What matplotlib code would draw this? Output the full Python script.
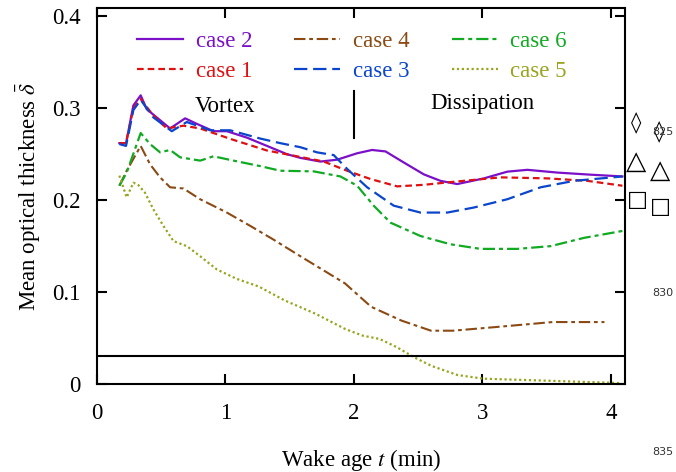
import matplotlib
matplotlib.use('Agg')
import matplotlib.pyplot as plt

# dados
t_case2 = [0.174, 0.226, 0.283, 0.34, 0.387, 0.569, 0.686, 0.777, 0.907, 1.011, 1.167,
           1.323, 1.479, 1.583, 1.739, 1.869, 2.025, 2.141, 2.246, 2.388, 2.545, 2.674,
           2.804, 3.012, 3.194, 3.35, 3.584, 3.844, 4.09]
d_case2 = [0.262, 0.262, 0.303, 0.314, 0.299, 0.278, 0.289, 0.283, 0.275, 0.275, 0.268,
           0.259, 0.250, 0.246, 0.242, 0.244, 0.251, 0.2546, 0.253, 0.241, 0.228, 0.221,
           0.2175, 0.2237, 0.231, 0.233, 0.230, 0.2277, 0.2258]

t_case1 = [0.174, 0.226, 0.283, 0.34, 0.439, 0.543, 0.673, 0.803, 1.037, 1.323, 1.557,
           1.765, 1.947, 2.129, 2.337, 2.545, 2.778, 3.142, 3.506, 3.818, 4.09]
d_case1 = [0.262, 0.262, 0.300, 0.310, 0.292, 0.278, 0.281, 0.278, 0.2667, 0.254, 0.2477,
           0.242, 0.232, 0.223, 0.215, 0.2167, 0.220, 0.2248, 0.2237, 0.221, 0.2157]

t_case4 = [0.174, 0.231, 0.34, 0.413, 0.491, 0.569, 0.673, 0.803, 1.011, 1.193, 1.375,
           1.583, 1.93, 2.134, 2.37, 2.60, 2.77, 3.107, 3.545, 3.95]
d_case4 = [0.2157, 0.232, 0.259, 0.239, 0.2248, 0.214, 0.2127, 0.201, 0.1865, 0.172, 0.157,
           0.139, 0.1095, 0.084, 0.069, 0.058, 0.058, 0.062, 0.0674, 0.0674]

t_case3 = [0.174, 0.226, 0.283, 0.34, 0.439, 0.582, 0.699, 0.881, 1.037, 1.271, 1.427,
           1.583, 1.713, 1.843, 1.947, 2.103, 2.31, 2.518, 2.727, 2.934, 3.194, 3.454,
           3.714, 4.09]
d_case3 = [0.261, 0.259, 0.298, 0.309, 0.290, 0.275, 0.285, 0.276, 0.276, 0.267, 0.262,
           0.2576, 0.252, 0.249, 0.234, 0.214, 0.194, 0.1865, 0.1865, 0.192, 0.201, 0.214,
           0.221, 0.2258]

t_case6 = [0.174, 0.231, 0.34, 0.413, 0.491, 0.569, 0.647, 0.803, 0.907, 1.063, 1.271,
           1.427, 1.687, 1.895, 2.025, 2.154, 2.285, 2.518, 2.752, 2.986, 3.272, 3.532,
           3.792, 4.09]
d_case6 = [0.2157, 0.230, 0.273, 0.261, 0.252, 0.2546, 0.2466, 0.243, 0.2477, 0.243, 0.237,
           0.232, 0.2313, 0.2258, 0.2157, 0.194, 0.1755, 0.161, 0.152, 0.147, 0.147, 0.150,
           0.159, 0.1665]

t_case5 = [0.174, 0.231, 0.283, 0.322, 0.374, 0.439, 0.517, 0.595, 0.699, 0.803, 0.933,
           1.089, 1.26, 1.46, 1.70, 1.93, 2.066, 2.20, 2.335, 2.47, 2.604, 2.806, 3.007,
           3.44, 4.08]
d_case5 = [0.2267, 0.203, 0.219, 0.2164, 0.208, 0.190, 0.172, 0.1555, 0.150, 0.139, 0.1246,
           0.1143, 0.106, 0.091, 0.0765, 0.060, 0.0527, 0.049, 0.040, 0.029, 0.0197, 0.0098,
           0.0058, 0.0039, 0.001]

limiar = 0.03
t_fase = 2.0
fases = ['Vortex', 'Dissipation']
t_fases = [1.0, 3.0]

plt.rcParams['font.family'] = ['Liberation Serif', 'DejaVu Serif']
plt.rcParams['mathtext.fontset'] = 'stix'
tam = 16.5

fig = plt.figure(figsize=(6.76, 4.72), dpi=100)
ax = fig.add_axes([0.1435, 0.1864, 0.781, 0.7966])

ax.plot(t_case2, d_case2, color='#7B10C8', lw=1.6, linestyle='-', label='case 2')
ax.plot(t_case1, d_case1, color='#DD1111', lw=1.6, linestyle=(0, (3, 1.8)), label='case 1')
ax.plot(t_case4, d_case4, color='#8B4A14', lw=1.5, linestyle=(0, (5.5, 1.8, 1.8, 1.8)), label='case 4')
ax.plot(t_case3, d_case3, color='#0A45CC', lw=1.6, linestyle=(0, (6, 2.6)), label='case 3')
ax.plot(t_case6, d_case6, color='#11AA22', lw=1.6, linestyle=(0, (5.5, 1.8, 1.8, 1.8)), label='case 6')
ax.plot(t_case5, d_case5, color='#99A520', lw=1.6, linestyle=(0, (1, 1.2)), label='case 5')

ax.axhline(limiar, color='black', lw=1.5)
ax.plot([t_fase, t_fase], [0.268, 0.319], color='black', lw=1.5)
ax.text(t_fases[0], 0.302, fases[0], ha='center', va='center', fontsize=tam)
ax.text(t_fases[1], 0.305, fases[1], ha='center', va='center', fontsize=tam)

ax.set_xlim(0, 4.11)
ax.set_ylim(0, 0.409)
ax.set_xticks([0, 1, 2, 3, 4])
ax.set_xticklabels(['0', '1', '2', '3', '4'])
ax.set_yticks([0, 0.1, 0.2, 0.3, 0.4])
ax.set_yticklabels(['0', '0.1', '0.2', '0.3', '0.4'])
ax.tick_params(direction='in', length=7.5, width=1.5, top=True, right=True, labelsize=tam)
ax.tick_params(axis='x', pad=14)
ax.tick_params(axis='y', pad=12)
for lado in ax.spines.values():
    lado.set_linewidth(1.5)

ax.set_xlabel('Wake age $t$ (min)', fontsize=tam, labelpad=16)
ax.set_ylabel(r'Mean optical thickness $\bar{\delta}$', fontsize=tam, labelpad=6)

leg = ax.legend(loc='upper left', bbox_to_anchor=(0.05, 0.975), ncol=3, frameon=False,
                handlelength=2.0, handletextpad=0.55, columnspacing=1.85, labelspacing=0.4,
                labelcolor='linecolor', fontsize=tam, borderaxespad=0.2)

# marcas de digitalizacao na margem direita
fig.text(636 / 676, 1 - 123 / 472, '\u25CA', family='DejaVu Sans', fontsize=15, ha='center', va='center')
fig.text(659 / 676, 1 - 132 / 472, '\u25CA', family='DejaVu Sans', fontsize=15, ha='center', va='center')
fig.text(636 / 676, 1 - 162 / 472, '\u25B3', family='DejaVu Sans', fontsize=19, ha='center', va='center')
fig.text(660 / 676, 1 - 171 / 472, '\u25B3', family='DejaVu Sans', fontsize=19, ha='center', va='center')
fig.text(637 / 676, 1 - 200 / 472, '\u25A1', family='DejaVu Sans', fontsize=16, ha='center', va='center')
fig.text(660 / 676, 1 - 207 / 472, '\u25A1', family='DejaVu Sans', fontsize=16, ha='center', va='center')
for num, py in zip(['825', '830', '835'], [132, 293, 452]):
    fig.text(663 / 676, 1 - py / 472, num, family='DejaVu Sans', fontsize=8, ha='center', va='center', color='#333333')

plt.savefig('out.png', dpi=100)
plt.close()
